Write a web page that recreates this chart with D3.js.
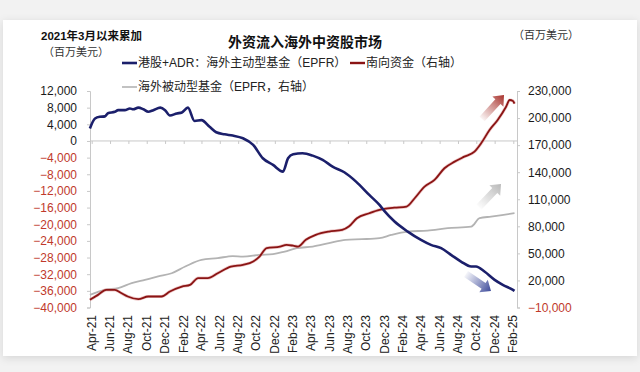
<!DOCTYPE html>
<html>
<head>
<meta charset="utf-8">
<script src="https://cdn.jsdelivr.net/npm/d3@7"></script>
<style>
  body { margin: 0; background: #fff; }
  svg { display: block; font-family: "Liberation Sans", Arial, "Noto Sans CJK SC", sans-serif; }
</style>
</head>
<body>
<svg id="chart" width="640" height="372"></svg>
<script>
// 港股+ADR：海外主动型基金（EPFR），左轴
const activeFund = [
  ["2021-03-26", 3000], ["2021-04-12", 5400], ["2021-04-28", 5800], ["2021-05-15", 5900],
  ["2021-05-25", 6650], ["2021-06-17", 7000], ["2021-06-28", 7400], ["2021-07-20", 7400],
  ["2021-08-06", 7800], ["2021-08-17", 7600], ["2021-09-03", 8000], ["2021-09-20", 7600],
  ["2021-10-06", 7000], ["2021-10-23", 7400], ["2021-11-15", 8000], ["2021-12-01", 7400],
  ["2021-12-17", 6100], ["2022-01-09", 6600], ["2022-01-26", 6850], ["2022-02-15", 8000],
  ["2022-03-09", 4800], ["2022-04-01", 5000], ["2022-04-28", 3400], ["2022-05-20", 2100],
  ["2022-06-17", 1600], ["2022-07-14", 1300], ["2022-08-17", 650], ["2022-09-20", -960],
  ["2022-10-22", -4150], ["2022-11-25", -5760], ["2022-12-28", -7360], ["2023-01-14", -4150],
  ["2023-01-31", -3200], ["2023-03-03", -2950], ["2023-04-06", -3520], ["2023-05-09", -4560],
  ["2023-06-11", -6160], ["2023-07-20", -7520], ["2023-08-28", -9760], ["2023-10-11", -12960],
  ["2023-11-14", -15360], ["2023-11-30", -16800], ["2024-01-03", -19360], ["2024-02-16", -21760],
  ["2024-03-31", -23760], ["2024-05-03", -24960], ["2024-06-06", -25760], ["2024-07-09", -27360],
  ["2024-08-11", -28960], ["2024-09-14", -30160], ["2024-09-30", -30160], ["2024-10-28", -31360],
  ["2024-12-01", -33360], ["2024-12-28", -34560], ["2025-01-31", -35760], ["2025-02-05", -36000]
];

// 南向资金（右轴）
const southbound = [
  ["2021-03-26", -1500], ["2021-04-22", 4000], ["2021-05-19", 9600], ["2021-06-17", 9600],
  ["2021-07-08", 6000], ["2021-07-30", 2200], ["2021-09-03", -700], ["2021-10-06", 2200],
  ["2021-11-19", 2200], ["2021-12-17", 7700], ["2022-01-26", 13200], ["2022-02-22", 15100],
  ["2022-03-21", 22600], ["2022-04-22", 22600], ["2022-05-25", 28000], ["2022-07-08", 35400],
  ["2022-08-17", 37300], ["2022-09-20", 41000], ["2022-10-11", 46500], ["2022-11-04", 55800],
  ["2022-12-18", 57500], ["2023-01-09", 59400], ["2023-01-31", 58500], ["2023-02-16", 57500],
  ["2023-03-14", 65000], ["2023-04-16", 70500], ["2023-05-30", 74200], ["2023-07-13", 76000],
  ["2023-08-04", 79700], ["2023-08-31", 89000], ["2023-10-11", 94500], ["2023-11-14", 98200],
  ["2023-11-30", 99300], ["2024-01-03", 100700], ["2024-02-12", 101900], ["2024-03-10", 111100],
  ["2024-04-12", 124000], ["2024-05-15", 131400], ["2024-06-17", 144400], ["2024-07-21", 151700],
  ["2024-08-22", 157200], ["2024-09-25", 162800], ["2024-10-17", 172000], ["2024-11-14", 186800],
  ["2024-12-11", 197900], ["2025-01-08", 212600], ["2025-01-20", 220000], ["2025-01-31", 219000],
  ["2025-02-05", 216000]
];

// 海外被动型基金（EPFR，右轴）
const passiveFund = [
  ["2021-03-26", 4000], ["2021-05-15", 9600], ["2021-06-28", 11500], ["2021-08-12", 17000],
  ["2021-09-25", 20700], ["2021-11-08", 24400], ["2021-12-23", 28000], ["2022-02-06", 35400],
  ["2022-04-01", 42800], ["2022-05-25", 44700], ["2022-07-14", 47000], ["2022-08-17", 46500],
  ["2022-10-11", 48300], ["2022-11-25", 49100], ["2023-01-03", 52000], ["2023-02-12", 55800],
  ["2023-04-06", 57500], ["2023-05-30", 61300], ["2023-07-24", 65000], ["2023-09-17", 65700],
  ["2023-11-14", 66800], ["2023-12-23", 70500], ["2024-02-16", 74200], ["2024-04-22", 75300],
  ["2024-06-28", 77900], ["2024-09-14", 79700], ["2024-10-12", 89000], ["2024-11-19", 90800],
  ["2025-02-05", 94500]
];

const leftTicks = d3.range(-40000, 12001, 4000);
const rightTicks = d3.range(-10000, 230001, 30000);
const monthLabels = ["Apr-21","Jun-21","Aug-21","Oct-21","Dec-21","Feb-22","Apr-22","Jun-22",
  "Aug-22","Oct-22","Dec-22","Feb-23","Apr-23","Jun-23","Aug-23","Oct-23","Dec-23","Feb-24",
  "Apr-24","Jun-24","Aug-24","Oct-24","Dec-24","Feb-25"];

const svg = d3.select('#chart');
const parse = d3.timeParse('%Y-%m-%d');
const labelDate = d3.timeParse('%b-%y');

// card background with faint shadow
const defs = svg.append('defs');
const shadow = defs.append('filter').attr('id', 'shadow')
    .attr('x', '-5%').attr('y', '-5%').attr('width', '110%').attr('height', '115%');
shadow.append('feDropShadow').attr('dx', 0).attr('dy', 2).attr('stdDeviation', 4)
    .attr('flood-color', '#000').attr('flood-opacity', 0.12);

svg.append('rect').attr('width', 640).attr('height', 372).attr('fill', '#f2f2f2');
svg.append('rect').attr('x', 3).attr('y', 20).attr('width', 634).attr('height', 336)
    .attr('fill', '#fff').attr('filter', 'url(#shadow)');

const plot = {left: 90, right: 517, top: 91, bottom: 307.5};

const x = d3.scaleTime()
    .domain([parse('2021-04-01'), parse('2025-02-01')])
    .range([91.7, 513.3]);
const yL = d3.scaleLinear().domain([-40000, 12000]).range([plot.bottom, plot.top]);
const yR = d3.scaleLinear().domain([-10000, 230000]).range([plot.bottom, plot.top]);

const red = '#c0392b';
const fmt = d3.format(',');

// left axis
const leftAxis = svg.append('g')
    .attr('transform', `translate(${plot.left},0)`)
    .call(d3.axisLeft(yL).tickValues(leftTicks).tickSize(3).tickPadding(10).tickFormat(fmt));
leftAxis.select('.domain').attr('stroke', '#c8c8c8');
leftAxis.selectAll('.tick line').attr('stroke', '#c8c8c8');
leftAxis.selectAll('.tick text')
    .attr('font-size', 12)
    .attr('fill', d => d < 0 ? red : '#1a1a1a');

// right axis
const rightAxis = svg.append('g')
    .attr('transform', `translate(${plot.right},0)`)
    .call(d3.axisRight(yR).tickValues(rightTicks).tickSize(3).tickPadding(8).tickFormat(fmt));
rightAxis.select('.domain').attr('stroke', '#c8c8c8');
rightAxis.selectAll('.tick line').attr('stroke', '#c8c8c8');
rightAxis.selectAll('.tick text')
    .attr('font-size', 12)
    .attr('fill', d => d < 0 ? red : '#1a1a1a');

// zero line with month ticks
const zeroAxis = svg.append('g')
    .attr('transform', `translate(0,${yL(0)})`)
    .call(d3.axisBottom(x).tickValues(monthLabels.map(labelDate)).tickSize(3).tickFormat(''));
zeroAxis.select('.domain').attr('d', `M${plot.left},0H${plot.right}`).attr('stroke', '#c8c8c8');
zeroAxis.selectAll('.tick line').attr('stroke', '#c8c8c8');

// x labels
svg.append('g')
    .selectAll('text')
    .data(monthLabels)
    .enter()
    .append('text')
        .attr('transform', d => `translate(${x(labelDate(d)) + 4},315) rotate(-90)`)
        .attr('text-anchor', 'end')
        .attr('font-size', 12)
        .attr('fill', '#222')
        .text(d => d);

// series
const lineL = d3.line().x(d => x(parse(d[0]))).y(d => yL(d[1])).curve(d3.curveMonotoneX);
const lineR = d3.line().x(d => x(parse(d[0]))).y(d => yR(d[1])).curve(d3.curveMonotoneX);

svg.append('path').datum(passiveFund)
    .attr('d', lineR).attr('fill', 'none').attr('stroke', '#b3b3b3').attr('stroke-width', 1.8);
svg.append('path').datum(southbound)
    .attr('d', lineR).attr('fill', 'none').attr('stroke', '#e3a3a3').attr('stroke-width', 3.2).attr('opacity', 0.6);
svg.append('path').datum(southbound)
    .attr('d', lineR).attr('fill', 'none').attr('stroke', '#8a1414').attr('stroke-width', 1.8);
svg.append('path').datum(activeFund)
    .attr('d', lineL).attr('fill', 'none').attr('stroke', '#1b1f6b').attr('stroke-width', 2.6);

// gradient arrows (gradient in the arrow's own rotated space)
function drawArrow(id, x1, y1, x2, y2, colour) {
    const len = Math.hypot(x2 - x1, y2 - y1);
    const ang = Math.atan2(y2 - y1, x2 - x1) * 180 / Math.PI;
    const g = defs.append('linearGradient').attr('id', id)
        .attr('gradientUnits', 'userSpaceOnUse')
        .attr('x1', 0).attr('y1', 0).attr('x2', len).attr('y2', 0);
    g.append('stop').attr('offset', 0).attr('stop-color', colour).attr('stop-opacity', 0.05);
    g.append('stop').attr('offset', 0.6).attr('stop-color', colour).attr('stop-opacity', 0.6);
    g.append('stop').attr('offset', 1).attr('stop-color', colour).attr('stop-opacity', 1);

    const sw = 3.5, hw = 7.5, hl = 9;
    const pts = [[0, -sw], [len - hl, -sw], [len - hl, -hw], [len, 0], [len - hl, hw], [len - hl, sw], [0, sw]];
    svg.append('polygon')
        .attr('points', pts.map(p => p.join(',')).join(' '))
        .attr('transform', `translate(${x1},${y1}) rotate(${ang})`)
        .attr('fill', `url(#${id})`);
}
drawArrow('arRed', 482, 119, 504, 95, '#a8322c');
drawArrow('arGrey', 479, 207, 501, 184, '#b8b8b8');
drawArrow('arBlue', 466, 274, 491, 291, '#3d4a9a');

// titles
svg.append('text').attr('x', 305).attr('y', 47).attr('text-anchor', 'middle')
    .attr('font-size', 14).attr('font-weight', 'bold').attr('fill', '#111')
    .text('外资流入海外中资股市场');
svg.append('text').attr('x', 41).attr('y', 40)
    .attr('font-size', 11.5).attr('font-weight', 'bold').attr('fill', '#111')
    .text('2021年3月以来累加');
svg.append('text').attr('x', 43).attr('y', 56)
    .attr('font-size', 11).attr('fill', '#333')
    .text('（百万美元）');
svg.append('text').attr('x', 513).attr('y', 39)
    .attr('font-size', 11).attr('fill', '#333')
    .text('（百万美元）');

// legend
const legend = [
    {label: '港股+ADR：海外主动型基金（EPFR）', colour: '#1b1f6b', w: 2.6, x: 122, y: 63},
    {label: '南向资金（右轴）', colour: '#8a1414', w: 2.4, x: 350, y: 63},
    {label: '海外被动型基金（EPFR，右轴）', colour: '#b3b3b3', w: 1.6, x: 122, y: 87}
];
const lg = svg.append('g').selectAll('g').data(legend).enter().append('g');
lg.append('line')
    .attr('x1', d => d.x).attr('x2', d => d.x + 15)
    .attr('y1', d => d.y).attr('y2', d => d.y)
    .attr('stroke', d => d.colour).attr('stroke-width', d => d.w);
lg.append('text')
    .attr('x', d => d.x + 16).attr('y', d => d.y)
    .attr('dy', '0.35em')
    .attr('font-size', 12).attr('fill', '#222')
    .text(d => d.label);
</script>
</body>
</html>
